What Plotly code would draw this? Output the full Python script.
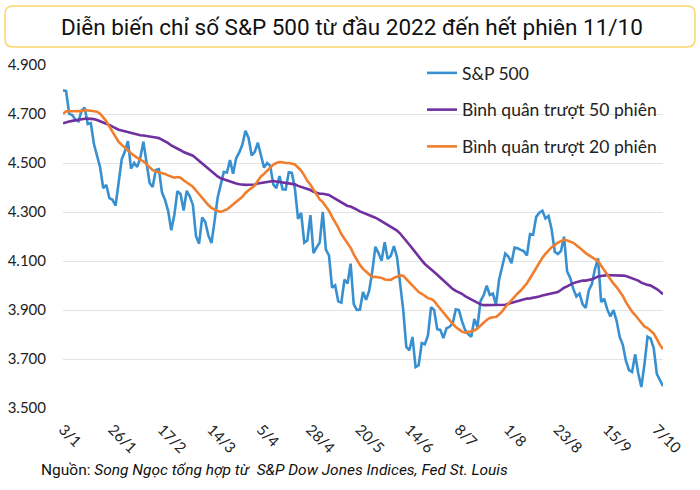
import plotly.graph_objects as go

dates = [
    "3/1","4/1","5/1","6/1","7/1","10/1","11/1","12/1","13/1","14/1","18/1","19/1","20/1","21/1","24/1","25/1","26/1","27/1","28/1","31/1",
    "1/2","2/2","3/2","4/2","7/2","8/2","9/2","10/2","11/2","14/2","15/2","16/2","17/2","18/2","22/2","23/2","24/2","25/2","28/2",
    "1/3","2/3","3/3","4/3","7/3","8/3","9/3","10/3","11/3","14/3","15/3","16/3","17/3","18/3","21/3","22/3","23/3","24/3","25/3","28/3","29/3","30/3","31/3",
    "1/4","4/4","5/4","6/4","7/4","8/4","11/4","12/4","13/4","14/4","18/4","19/4","20/4","21/4","22/4","25/4","26/4","27/4","28/4","29/4",
    "2/5","3/5","4/5","5/5","6/5","9/5","10/5","11/5","12/5","13/5","16/5","17/5","18/5","19/5","20/5","23/5","24/5","25/5","26/5","27/5","31/5",
    "1/6","2/6","3/6","6/6","7/6","8/6","9/6","10/6","13/6","14/6","15/6","16/6","17/6","21/6","22/6","23/6","24/6","27/6","28/6","29/6","30/6",
    "1/7","5/7","6/7","7/7","8/7","11/7","12/7","13/7","14/7","15/7","18/7","19/7","20/7","21/7","22/7","25/7","26/7","27/7","28/7","29/7",
    "1/8","2/8","3/8","4/8","5/8","8/8","9/8","10/8","11/8","12/8","15/8","16/8","17/8","18/8","19/8","22/8","23/8","24/8","25/8","26/8","29/8","30/8","31/8",
    "1/9","2/9","6/9","7/9","8/9","9/9","12/9","13/9","14/9","15/9","16/9","19/9","20/9","21/9","22/9","23/9","26/9","27/9","28/9","29/9","30/9",
    "3/10","4/10","5/10","6/10","7/10","10/10","11/10",
]

sp500 = [
    4796.6, 4793.5, 4700.6, 4696.1, 4677.0, 4670.3, 4713.1, 4726.4, 4659.0, 4662.9,
    4577.1, 4532.8, 4482.7, 4397.9, 4410.1, 4356.5, 4349.9, 4326.5, 4431.9, 4515.6,
    4546.5, 4589.4, 4477.4, 4500.5, 4483.9, 4521.5, 4587.2, 4504.1, 4418.6, 4401.7,
    4471.1, 4475.0, 4380.3, 4348.9, 4304.8, 4225.5, 4288.7, 4384.7, 4373.9, 4306.3,
    4386.5, 4363.5, 4328.9, 4201.1, 4170.7, 4277.9, 4259.5, 4204.3, 4173.1, 4262.5,
    4357.9, 4411.7, 4463.1, 4461.2, 4511.6, 4456.2, 4520.2, 4543.1, 4575.5, 4631.6,
    4602.5, 4530.4, 4545.9, 4582.6, 4525.1, 4481.2, 4500.2, 4488.3, 4412.5, 4397.5,
    4446.6, 4392.6, 4391.7, 4462.2, 4459.5, 4393.7, 4271.8, 4296.1, 4175.2, 4184.0,
    4287.5, 4131.9, 4155.4, 4175.5, 4300.2, 4146.9, 4123.3, 3991.2, 4001.1, 3935.2,
    3930.1, 4023.9, 4008.0, 4088.9, 3923.7, 3900.8, 3901.4, 3973.8, 3941.5, 3978.7,
    4057.8, 4158.2, 4132.2, 4101.2, 4176.8, 4108.5, 4121.4, 4160.7, 4115.8, 4017.8,
    3900.9, 3749.6, 3735.5, 3790.0, 3666.8, 3674.8, 3764.8, 3759.9, 3795.7, 3911.7,
    3900.1, 3821.6, 3818.8, 3785.4, 3825.3, 3831.4, 3845.1, 3902.6, 3899.4, 3854.4,
    3818.8, 3801.8, 3790.4, 3863.2, 3830.9, 3936.7, 3959.9, 3999.0, 3961.6, 3966.8,
    3921.1, 4023.6, 4072.4, 4130.3, 4118.6, 4091.2, 4155.2, 4151.9, 4145.2, 4140.1,
    4122.5, 4210.2, 4207.3, 4280.2, 4297.1, 4305.2, 4274.0, 4283.7, 4228.5, 4138.0,
    4128.7, 4140.8, 4199.1, 4057.7, 4030.6, 3986.2, 3955.0, 3966.9, 3924.3, 3908.2,
    3979.9, 4006.2, 4067.4, 4110.4, 3932.7, 3946.0, 3901.4, 3873.3, 3899.9, 3855.9,
    3789.9, 3758.0, 3693.2, 3655.0, 3647.3, 3719.0, 3640.5, 3585.6, 3678.4, 3790.9,
    3783.3, 3744.5, 3639.7, 3612.4, 3588.8,
]

ma50 = [
    4661.9, 4666.9, 4669.6, 4672.0, 4674.5, 4676.0, 4678.1, 4680.4, 4681.0, 4681.0,
    4679.0, 4675.7, 4671.3, 4665.5, 4660.8, 4654.9, 4648.3, 4641.2, 4635.8, 4632.3,
    4629.2, 4627.0, 4622.9, 4619.1, 4614.7, 4613.3, 4611.9, 4610.6, 4608.7, 4605.2,
    4603.9, 4601.6, 4595.4, 4588.4, 4581.1, 4571.4, 4563.8, 4558.8, 4552.1, 4544.8,
    4540.2, 4536.1, 4529.7, 4519.7, 4508.6, 4498.4, 4487.8, 4476.1, 4464.0, 4453.9,
    4445.1, 4437.5, 4432.7, 4428.0, 4424.7, 4420.4, 4416.6, 4412.9, 4411.2, 4410.6,
    4411.1, 4411.1, 4412.3, 4416.0, 4418.3, 4420.8, 4423.8, 4427.1, 4426.7, 4424.3,
    4422.3, 4418.4, 4416.7, 4415.9, 4415.4, 4412.9, 4406.5, 4402.4, 4397.5, 4393.2,
    4389.5, 4382.6, 4378.1, 4374.7, 4374.6, 4373.0, 4369.7, 4361.8, 4354.4, 4346.9,
    4337.8, 4331.0, 4324.6, 4322.4, 4317.4, 4309.9, 4302.7, 4298.1, 4293.5, 4287.8,
    4281.8, 4276.7, 4270.1, 4262.9, 4256.2, 4249.3, 4241.3, 4233.6, 4224.4, 4212.2,
    4198.1, 4182.5, 4166.3, 4150.5, 4133.3, 4117.2, 4102.5, 4087.9, 4075.6, 4065.8,
    4054.9, 4043.5, 4032.0, 4018.5, 4005.8, 3994.6, 3986.0, 3978.2, 3972.7, 3966.1,
    3956.7, 3950.1, 3942.8, 3936.5, 3927.2, 3922.9, 3919.7, 3919.8, 3919.0, 3919.7,
    3919.5, 3919.5, 3920.8, 3921.6, 3925.5, 3929.3, 3934.4, 3938.0, 3942.0, 3945.3,
    3946.6, 3947.6, 3949.1, 3952.7, 3955.1, 3959.0, 3962.1, 3964.5, 3966.8, 3969.2,
    3973.7, 3981.6, 3990.8, 3996.2, 4003.5, 4009.7, 4013.5, 4017.6, 4020.2, 4020.1,
    4021.7, 4025.4, 4030.4, 4036.9, 4039.0, 4041.3, 4042.5, 4041.9, 4041.9, 4041.9,
    4041.3, 4040.5, 4038.5, 4034.4, 4030.7, 4026.3, 4019.9, 4011.7, 4006.0, 4002.5,
    3999.7, 3994.2, 3985.5, 3975.1, 3964.6,
]

ma20 = [
    4700.6, 4710.7, 4711.4, 4711.2, 4711.7, 4709.6, 4711.8, 4716.4, 4713.8, 4713.6,
    4711.4, 4709.6, 4701.3, 4686.4, 4670.6, 4648.8, 4627.0, 4603.7, 4586.3, 4573.8,
    4561.3, 4551.1, 4539.9, 4530.2, 4520.5, 4513.1, 4506.8, 4495.7, 4483.7, 4470.6,
    4465.3, 4462.4, 4457.3, 4454.8, 4449.6, 4443.0, 4439.9, 4442.9, 4440.0, 4429.5,
    4421.5, 4410.2, 4402.8, 4387.8, 4372.1, 4360.0, 4343.6, 4328.6, 4316.3, 4309.3,
    4303.7, 4300.5, 4304.7, 4310.3, 4320.6, 4332.2, 4343.7, 4351.7, 4361.7, 4378.0,
    4388.8, 4397.1, 4408.0, 4427.1, 4444.8, 4455.0, 4467.0, 4481.2, 4493.2, 4499.9,
    4504.3, 4503.4, 4499.8, 4499.9, 4497.3, 4494.1, 4481.7, 4469.4, 4449.3, 4427.0,
    4411.2, 4391.3, 4371.8, 4351.4, 4340.2, 4323.5, 4304.6, 4279.8, 4259.2, 4236.1,
    4210.2, 4191.8, 4172.6, 4154.0, 4127.2, 4102.5, 4084.0, 4067.9, 4056.2, 4045.9,
    4034.5, 4035.8, 4034.6, 4030.9, 4024.7, 4022.8, 4022.7, 4031.2, 4036.9, 4041.1,
    4039.6, 4025.9, 4012.3, 3997.3, 3984.5, 3973.2, 3966.3, 3955.6, 3948.4, 3945.0,
    3937.1, 3920.3, 3904.6, 3888.8, 3871.3, 3857.4, 3843.6, 3830.7, 3819.9, 3811.7,
    3807.6, 3810.2, 3812.9, 3816.6, 3824.8, 3837.9, 3847.7, 3859.6, 3867.9, 3870.7,
    3871.7, 3881.8, 3894.5, 3911.7, 3926.4, 3939.4, 3954.9, 3967.4, 3979.6, 3993.9,
    4009.1, 4029.5, 4050.4, 4071.2, 4094.5, 4113.0, 4128.7, 4142.9, 4156.3, 4164.8,
    4175.2, 4181.1, 4187.4, 4183.8, 4179.4, 4174.1, 4164.1, 4154.8, 4143.8, 4132.2,
    4125.1, 4114.9, 4107.9, 4099.4, 4081.2, 4063.2, 4044.6, 4024.1, 4007.6, 3993.5,
    3976.6, 3957.4, 3932.1, 3912.0, 3892.8, 3879.5, 3863.8, 3844.7, 3832.4, 3826.5,
    3816.7, 3803.6, 3782.3, 3757.4, 3740.2,
]

x_ticks = ["3/1", "26/1", "17/2", "14/3", "5/4", "28/4", "20/5", "14/6", "8/7", "1/8", "23/8", "15/9", "7/10"]
y_ticks = [3500, 3700, 3900, 4100, 4300, 4500, 4700, 4900]
y_labels = ["3.500", "3.700", "3.900", "4.100", "4.300", "4.500", "4.700", "4.900"]

names = ["S&P 500", "Bình quân trượt 50 phiên", "Bình quân trượt 20 phiên"]
colors = ["#3890d0", "#7030a0", "#f07e2c"]

title_text = "Diễn biến chỉ số S&P 500 từ đầu 2022 đến hết phiên 11/10"
source_text = "Nguồn: <i>Song Ngọc tổng hợp từ  S&P Dow Jones Indices, Fed St. Louis</i>"

# the page's body margin is removed below, so the figure sits at screen (0, 0)
W, H = 700, 490
L, T = 63, 65
PR, PB = 663, 408
R, B = W - PR, H - PB
pw, ph = PR - L, PB - T


def px(xs):
    return (xs - L) / pw


def py(ys):
    return (PB - ys) / ph


fig = go.Figure()
for name, vals, col, grp in zip(names, [sp500, ma50, ma20], colors, ["a", "b", "c"]):
    fig.add_trace(go.Scatter(x=dates, y=vals, mode="lines", name=name, legendgroup=grp,
                             line=dict(color=col, width=2.6)))

# rounded title box
x0, x1, y0, y1, r = 5, 695, 6, 47, 8
path = (f"M {px(x0 + r)} {py(y0)} L {px(x1 - r)} {py(y0)} Q {px(x1)} {py(y0)} {px(x1)} {py(y0 + r)} "
        f"L {px(x1)} {py(y1 - r)} Q {px(x1)} {py(y1)} {px(x1 - r)} {py(y1)} "
        f"L {px(x0 + r)} {py(y1)} Q {px(x0)} {py(y1)} {px(x0)} {py(y1 - r)} "
        f"L {px(x0)} {py(y0 + r)} Q {px(x0)} {py(y0)} {px(x0 + r)} {py(y0)} Z")
fig.add_shape(type="path", path=path, xref="paper", yref="paper",
              line=dict(color="#fcd86a", width=1.5), fillcolor="white", layer="below")

fig.add_annotation(text=title_text, xref="paper", yref="paper", x=px(352), y=py(27),
                   xanchor="center", yanchor="middle", showarrow=False,
                   font=dict(family="Roboto, Lato, sans-serif", size=22.5, color="#111"))
fig.add_annotation(text=source_text, xref="paper", yref="paper", x=px(39), y=py(470),
                   xanchor="left", yanchor="middle", showarrow=False,
                   font=dict(family="Roboto, Lato, sans-serif", size=15.5, color="#111"))

fig.update_layout(
    width=W, height=H,
    margin=dict(l=L, r=R, t=T, b=B, autoexpand=False),
    paper_bgcolor="white", plot_bgcolor="white",
    font=dict(family="Lato, sans-serif", size=15, color="#222"),
    showlegend=True,
    legend=dict(x=px(422), y=py(55), xanchor="left", yanchor="top",
                bgcolor="rgba(255,255,255,0)", font=dict(size=17.5, color="#222"),
                tracegroupgap=11, itemwidth=30),
    xaxis=dict(type="category", range=[0, len(dates) - 1], tickmode="array", tickvals=x_ticks,
               ticktext=x_ticks, tickangle=45, showgrid=False, zeroline=False, showline=False,
               ticks="outside", ticklen=6, tickcolor="rgba(0,0,0,0)", tickfont=dict(size=15)),
    yaxis=dict(range=[3500, 4900], tickmode="array", tickvals=y_ticks, ticktext=y_labels,
               showgrid=True, gridcolor="#e3e3e3", gridwidth=1, zeroline=False, showline=False,
               ticklabelstandoff=16, tickfont=dict(size=15)),
)

fig.write_html("out.html", config={"displayModeBar": False},
               post_script="document.body.style.margin='0px';")
